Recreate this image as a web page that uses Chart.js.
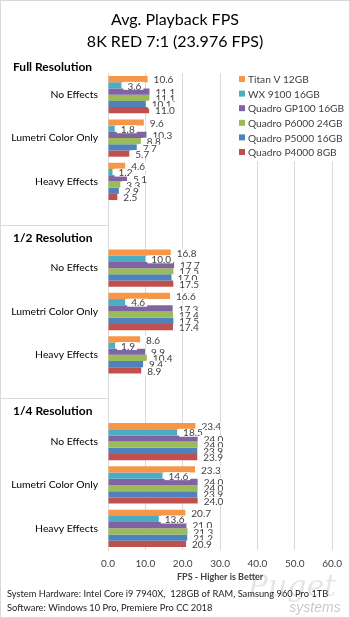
<!DOCTYPE html>
<html>
<head>
<meta charset="utf-8">
<script src="https://cdn.jsdelivr.net/npm/chart.js@4.4.1/dist/chart.umd.min.js"></script>
<style>
  html, body { margin: 0; padding: 0; background: #fff; }
  #wrap { width: 348px; height: 616px; border: 1px solid #d9d9d9; position: relative; }
  canvas { position: absolute; left: -1px; top: -1px; }
</style>
</head>
<body>
<div id="wrap"><canvas id="fpsChart" width="350" height="618"></canvas></div>
<script>
// categories (empty slots separate the resolution groups)
const categories = ['No Effects', 'Lumetri Color Only', 'Heavy Effects', '',
                    'No Effects', 'Lumetri Color Only', 'Heavy Effects', '',
                    'No Effects', 'Lumetri Color Only', 'Heavy Effects'];
const sections = ['Full Resolution', '1/2 Resolution', '1/4 Resolution'];
const seriesNames = ['Titan V 12GB', 'WX 9100 16GB', 'Quadro GP100 16GB',
                     'Quadro P6000 24GB', 'Quadro P5000 16GB', 'Quadro P4000 8GB'];

const titanV = [10.6, 9.6, 4.6, null, 16.8, 16.6, 8.6, null, 23.4, 23.3, 20.7];
const wx9100 = [3.6, 1.8, 1.2, null, 10.0, 4.6, 1.9, null, 18.5, 14.6, 13.6];
const gp100  = [11.1, 10.3, 5.1, null, 17.7, 17.3, 9.9, null, 24.0, 24.0, 21.0];
const p6000  = [11.1, 8.8, 3.3, null, 17.5, 17.4, 10.4, null, 24.0, 24.0, 21.3];
const p5000  = [10.1, 7.7, 2.9, null, 17.0, 17.5, 9.4, null, 23.9, 23.9, 21.2];
const p4000  = [11.0, 5.7, 2.5, null, 17.5, 17.4, 8.9, null, 23.9, 24.0, 20.9];

const xTicks = [0, 10, 20, 30, 40, 50, 60];

const colors = ['#F79646', '#4BACC6', '#8064A2', '#9BBB59', '#4F81BD', '#C0504D'];
const FONT = 'Lato';

const seriesData = [titanV, wx9100, gp100, p6000, p5000, p4000];

// everything Chart.js does not draw by itself
const extras = {
    id: 'extras',
    afterDatasetsDraw(chart) {
        const ctx = chart.ctx;
        const y = chart.scales.y;
        const area = chart.chartArea;
        ctx.save();

        // value labels
        ctx.font = '10px ' + FONT;
        ctx.textBaseline = 'middle';
        ctx.textAlign = 'left';
        chart.data.datasets.forEach((ds, i) => {
            const meta = chart.getDatasetMeta(i);
            meta.data.forEach((bar, j) => {
                const v = ds.data[j];
                if (v === null) return;
                const txt = v.toFixed(1);
                const w = ctx.measureText(txt).width;
                const x0 = bar.x + 2;
                ctx.fillStyle = '#fff';
                ctx.fillRect(x0, bar.y - 3.5, w + 6, 8);
                ctx.fillStyle = '#404040';
                ctx.fillText(txt, x0 + 4, bar.y + 1);
            });
        });

        // separators + section headers
        ctx.strokeStyle = '#d9d9d9';
        ctx.lineWidth = 1;
        ctx.font = 'bold 12px ' + FONT;
        ctx.fillStyle = '#000';
        const gaps = [3, 7];
        gaps.forEach(g => {
            const py = Math.round(y.getPixelForValue(g)) + 0.5;
            ctx.beginPath();
            ctx.moveTo(0, py);
            ctx.lineTo(area.left, py);
            ctx.stroke();
        });
        ctx.fillText(sections[0], 13, area.top - 6);
        gaps.forEach((g, k) => {
            ctx.fillText(sections[k + 1], 13, y.getPixelForValue(g) + 13);
        });

        // legend with white box
        const lx = 237, ly = 71;
        ctx.fillStyle = '#fff';
        ctx.fillRect(lx, ly, 106, 90);
        ctx.font = '10.2px ' + FONT;
        chart.data.datasets.forEach((ds, i) => {
            const cy = ly + 8 + i * 14.6;
            ctx.fillStyle = ds.backgroundColor;
            ctx.fillRect(lx + 2, cy - 3, 6, 6);
            ctx.fillStyle = '#404040';
            ctx.fillText(ds.label, lx + 11, cy + 1);
        });

        // title
        ctx.fillStyle = '#000';
        ctx.textAlign = 'center';
        ctx.font = '16px ' + FONT;
        ctx.fillText('Avg. Playback FPS', 175, 20);
        ctx.fillText('8K RED 7:1 (23.976 FPS)', 175, 42);

        // axis title
        ctx.font = 'bold 9px ' + FONT;
        ctx.fillStyle = '#404040';
        ctx.fillText('FPS - Higher is Better', (area.left + area.right) / 2, 577);

        // watermark
        ctx.fillStyle = 'rgba(0,0,0,0.10)';
        ctx.font = 'italic 30px "DejaVu Serif"';
        ctx.fillText('Puget', 292, 588);
        ctx.fillStyle = 'rgba(0,0,0,0.22)';
        ctx.font = 'italic 14px "Liberation Sans"';
        ctx.fillText('systems', 315, 608);

        // footer
        ctx.textAlign = 'left';
        ctx.fillStyle = '#222';
        ctx.font = '9.3px ' + FONT;
        ctx.fillText('System Hardware: Intel Core i9 7940X,  128GB of RAM, Samsung 960 Pro 1TB', 7, 594);
        ctx.fillText('Software: Windows 10 Pro, Premiere Pro CC 2018', 7, 608);

        ctx.restore();
    }
};

new Chart(document.getElementById('fpsChart'), {
    type: 'bar',
    data: {
        labels: categories,
        datasets: seriesNames.map((name, i) => ({
            label: name,
            data: seriesData[i],
            backgroundColor: colors[i],
            borderWidth: 0,
            categoryPercentage: 0.86,
            barPercentage: 1.0
        }))
    },
    options: {
        indexAxis: 'y',
        responsive: false,
        animation: false,
        layout: { padding: { top: 73, right: 17, left: 0, bottom: 0 } },
        plugins: {
            legend: { display: false },
            tooltip: { enabled: false }
        },
        scales: {
            x: {
                min: 0,
                max: 60,
                afterBuildTicks: scale => { scale.ticks = xTicks.map(v => ({ value: v })); },
                afterFit: scale => { scale.height = 68; },
                ticks: {
                    padding: 8,
                    color: '#404040',
                    font: { family: FONT, size: 10 },
                    callback: v => Number(v).toFixed(1)
                },
                grid: { color: '#d9d9d9', drawTicks: false },
                border: { display: false }
            },
            y: {
                afterFit: scale => { scale.width = 108; },
                ticks: {
                    padding: 10,
                    color: '#000',
                    font: { family: FONT, size: 10.4 },
                    autoSkip: false
                },
                grid: { display: false, drawTicks: false },
                border: { display: true, color: '#d9d9d9' }
            }
        }
    },
    plugins: [extras]
});
</script>
</body>
</html>
